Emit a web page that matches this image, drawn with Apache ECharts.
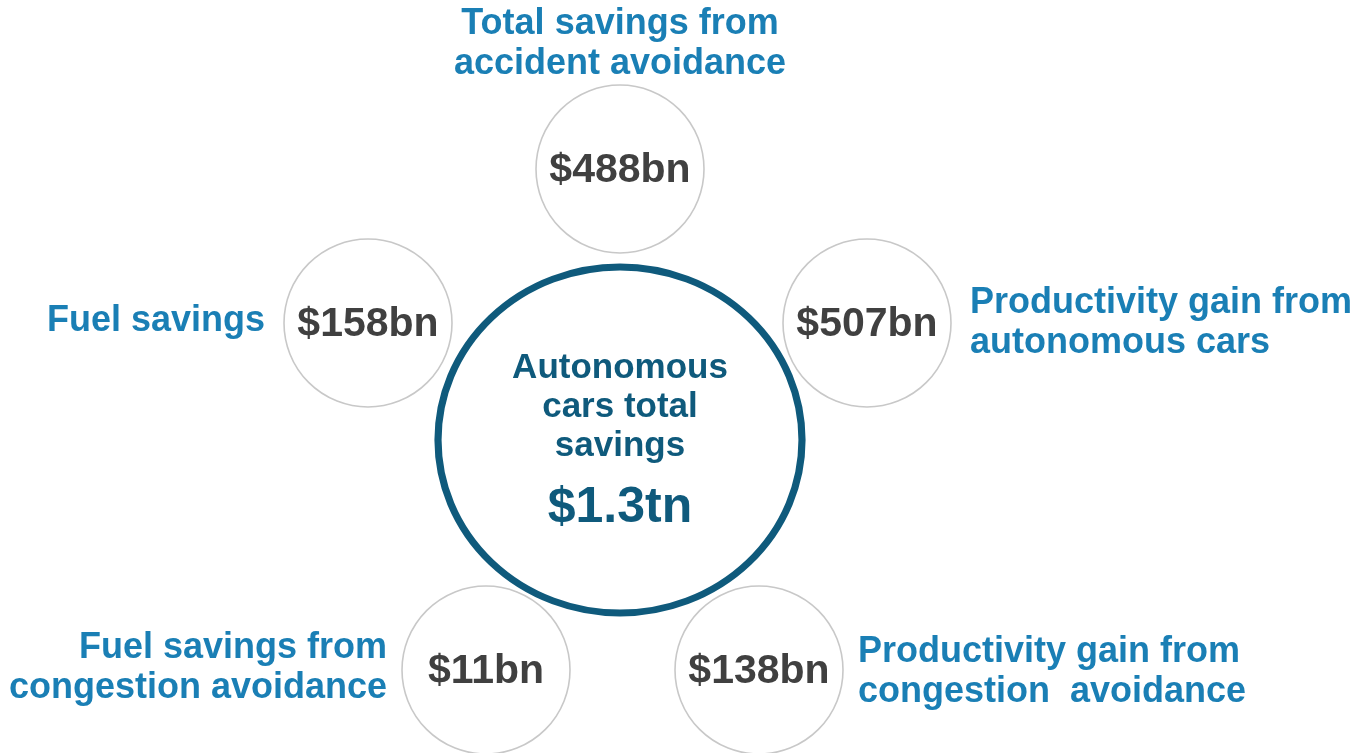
<!DOCTYPE html>
<html>
<head>
<meta charset="utf-8">
<script src="https://cdn.jsdelivr.net/npm/echarts@6/dist/echarts.min.js"></script>
<style>
html,body{margin:0;padding:0;background:#fff;}
#main{width:1366px;height:753px;}
</style>
</head>
<body>
<div id="main"></div>
<script>
// ---- data ----
const categories = [
  'Total savings from\naccident avoidance',
  'Productivity gain from\nautonomous cars',
  'Productivity gain from\ncongestion  avoidance',
  'Fuel savings from\ncongestion avoidance',
  'Fuel savings'
];
const values = ['$488bn', '$507bn', '$138bn', '$11bn', '$158bn'];
const totalTitle = ['Autonomous', 'cars total', 'savings'];
const totalValue = '$1.3tn';

// ---- layout (pixel positions, not data) ----
const centerPos = [620, 440];
const bubblePos = [[620, 169], [867, 323], [759, 670], [486, 670], [368, 323]];
const labelPos = [[620, 44], [970, 323], [858, 672], [387, 668], [265, 321]];
const labelAlign = ['center', 'left', 'left', 'right', 'right'];

const FONT = '"Liberation Sans", Arial, sans-serif';
const BLUE = '#1a7fb5';
const DARK = '#0f5a7c';
const GREY_TXT = '#404040';

const chart = echarts.init(document.getElementById('main'), null, {renderer: 'canvas'});

const option = {
  animation: false,
  backgroundColor: '#ffffff',
  grid: {left: 0, right: 0, top: 0, bottom: 0},
  xAxis: {type: 'value', min: 0, max: 1366, show: false},
  yAxis: {type: 'value', min: 0, max: 753, inverse: true, show: false},
  series: [
    {
      type: 'scatter',
      z: 2,
      symbol: 'circle',
      symbolSize: 168,
      silent: true,
      itemStyle: {color: '#ffffff', borderColor: '#c8c8c8', borderWidth: 1.6, opacity: 1},
      label: {
        show: true,
        position: 'inside',
        offset: [0, 2],
        fontFamily: FONT,
        fontWeight: 'bold',
        fontSize: 41,
        color: GREY_TXT,
        formatter: p => values[p.dataIndex]
      },
      data: bubblePos.map(p => p.slice())
    },
    {
      type: 'scatter',
      z: 3,
      symbol: 'circle',
      symbolSize: [364, 346],
      silent: true,
      itemStyle: {color: '#ffffff', borderColor: DARK, borderWidth: 7, opacity: 1},
      label: {
        show: true,
        position: 'inside',
        offset: [0, 10],
        formatter: () => totalTitle.map(t => '{a|' + t + '}').join('\n') + '\n{b|' + totalValue + '}',
        rich: {
          a: {fontFamily: FONT, fontWeight: 'bold', fontSize: 35, lineHeight: 39, color: DARK, align: 'center'},
          b: {fontFamily: FONT, fontWeight: 'bold', fontSize: 50, lineHeight: 86, color: DARK, align: 'center'}
        }
      },
      data: [centerPos.slice()]
    },
    {
      type: 'scatter',
      z: 4,
      symbol: 'circle',
      symbolSize: 1,
      silent: true,
      itemStyle: {color: 'rgba(255,255,255,0)', opacity: 1},
      data: labelPos.map((p, i) => ({
        value: p.slice(),
        label: {
          show: true,
          position: 'inside',
          align: labelAlign[i],
          verticalAlign: 'middle',
          fontFamily: FONT,
          fontWeight: 'bold',
          fontSize: 36,
          lineHeight: 40,
          color: BLUE,
          opacity: 1,
          formatter: () => categories[i]
        }
      }))
    }
  ]
};
chart.setOption(option);
</script>
</body>
</html>
